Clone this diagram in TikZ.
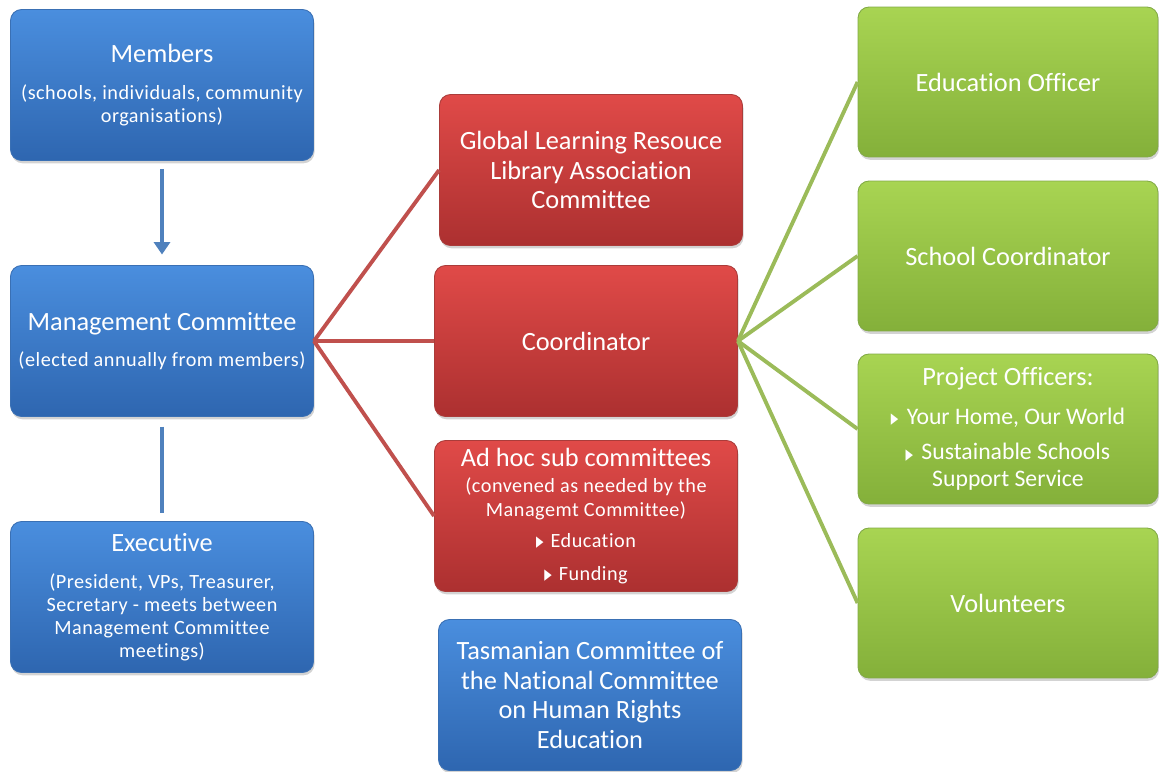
\documentclass[tikz,border=0pt]{standalone}
\usepackage{fontspec}
\setmainfont{Carlito}[Ligatures=CommonOff]
\newfontfamily\subfont{Carlito}[Ligatures=CommonOff, LetterSpace=2.5]
\newfontfamily\symfont{DejaVu Sans}
\usepackage{xcolor}
\usepackage{tikz}
\usetikzlibrary{arrows.meta,shadows,positioning}

\definecolor{bluetop}{RGB}{74,142,222}
\definecolor{bluebot}{RGB}{46,102,176}
\definecolor{blueedge}{RGB}{58,112,180}
\definecolor{redtop}{RGB}{224,74,72}
\definecolor{redbot}{RGB}{172,48,48}
\definecolor{rededge}{RGB}{170,60,58}
\definecolor{greentop}{RGB}{168,212,82}
\definecolor{greenbot}{RGB}{132,176,58}
\definecolor{greenedge}{RGB}{130,170,70}
\definecolor{bluelinec}{RGB}{79,129,189}
\definecolor{redlinec}{RGB}{192,80,77}
\definecolor{greenlinec}{RGB}{155,187,89}

\newcommand{\subsize}{\subfont\fontsize{11.5}{13}\selectfont}
\newcommand{\bulsize}{\fontsize{13.5}{15}\selectfont}
\newcommand{\bul}{{\symfont\fontsize{8.5}{8.5}\selectfont\raisebox{0.1ex}{\scalebox{0.65}[1]{▶}}}\hspace{0.35em}}

\begin{document}
\begin{tikzpicture}[
    x=0.02cm, y=-0.02cm,
    >={Triangle[width=9pt,length=7pt]},
    box/.style={rounded corners=0.22cm, minimum width=6.06cm, minimum height=3.02cm,
        text=white, align=center, inner sep=2pt, line width=0.5pt,
        font=\fontsize{15}{17}\selectfont,
        drop shadow={shadow xshift=0.6pt, shadow yshift=-1.6pt, opacity=0.35}},
    bluebox/.style={box, draw=blueedge, top color=bluetop, bottom color=bluebot},
    redbox/.style={box, draw=rededge, top color=redtop, bottom color=redbot},
    greenbox/.style={box, minimum width=6.0cm, minimum height=3.0cm, draw=greenedge, top color=greentop, bottom color=greenbot},
    bluelink/.style={line width=2.3pt, bluelinec},
    redlink/.style={line width=2.2pt, redlinec},
    greenlink/.style={line width=2.2pt, greenlinec}
]
\useasboundingbox (0,0) rectangle (1159,771);

% === Left column: membership ===
\node[bluebox] (mem) at (162,85) {Members\\[4.5pt]{\subsize (schools, individuals, community}\\[-4pt]{\subsize organisations)}};
\node[bluebox] (mgmt) at (162,341) {Management Committee\\[3.4pt]{\subsize (elected annually from members)}};
\node[bluebox] (exec) at (162,597) {Executive\\[4.5pt]{\subsize (President, VPs, Treasurer,}\\[-4pt]{\subsize Secretary - meets between}\\[-4pt]{\subsize Management Committee}\\[-4pt]{\subsize meetings)}};

% === Middle column ===
\node[redbox] (glr) at (591,170) {Global Learning Resouce\\Library Association\\Committee};
\node[redbox] (coord) at (586,341) {Coordinator};
\node[redbox] (adhoc) at (586,516) {Ad hoc sub committees\\[-2.3pt]{\subsize (convened as needed by the}\\[-3.4pt]{\subsize Managemt Committee)}\\[0.6pt]{\subsize\bul Education}\\[1.7pt]{\subsize\bul Funding}};
\node[bluebox] (tas) at (590,695) {Tasmanian Committee of\\the National Committee\\on Human Rights\\Education};

% === Right column: staff ===
\node[greenbox] (edu) at (1008,82) {Education Officer};
\node[greenbox] (school) at (1008,256) {School Coordinator};
\node[greenbox] (proj) at (1008,429) {Project Officers:\\[5pt]{\bulsize\bul Your Home, Our World}\\[3.4pt]{\bulsize\bul Sustainable Schools}\\[-1.7pt]{\bulsize Support Service}};
\node[greenbox] (vol) at (1008,603) {Volunteers};

% Connectors
\draw[bluelink, ->, shorten <=4.5pt, shorten >=6pt] (mem) -- (mgmt);
\draw[bluelink, shorten <=5.5pt, shorten >=4.5pt] (mgmt) -- (exec);

\foreach \r in {glr, coord, adhoc} {
    \draw[redlink] (mgmt.east) -- (\r.west);
}

\foreach \g in {edu, school, proj, vol} {
    \draw[greenlink] (coord.east) -- (\g.west);
}

\end{tikzpicture}
\end{document}
